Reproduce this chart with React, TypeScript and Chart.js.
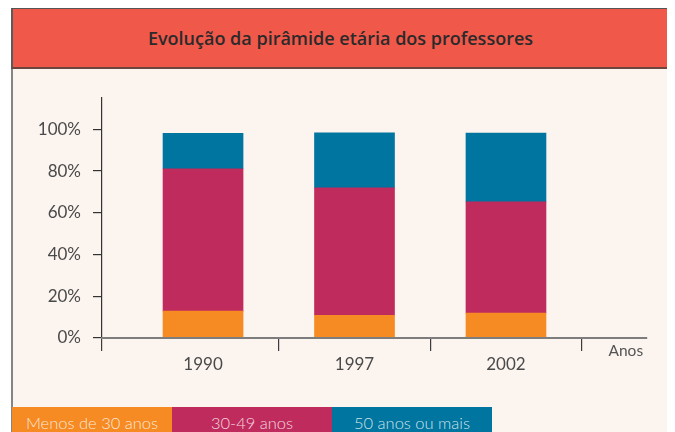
import React, { useEffect, useRef } from 'react';
import { Chart, registerables } from 'chart.js';

Chart.register(...registerables);

const chartTitle = 'Evolução da pirâmide etária dos professores';
const years = ['1990', '1997', '2002'];
const seriesNames = ['Menos de 30 anos', '30-49 anos', '50 anos ou mais'];
const under30 = [12.9, 10.9, 11.9];
const age30to49 = [68.2, 61.0, 53.3];
const over50 = [17.0, 26.4, 33.0];
const yTickValues = [0, 20, 40, 60, 80, 100];
const axisUnit = 'Anos';
const seriesColors = ['#F58B22', '#C02B5E', '#00759F'];

const X_MIN = -0.667;
const X_MAX = 2.931;
const BOUNDARIES = [0.5, 1.5, 2.5];
const Y_MAX = 115;
const FONT = 'Lato, "Open Sans", sans-serif';

export default function App() {
  const canvasRef = useRef<HTMLCanvasElement | null>(null);

  useEffect(() => {
    if (!canvasRef.current) return;
    const seriesData = [under30, age30to49, over50];
    const chart = new Chart(canvasRef.current, {
      type: 'bar',
      data: {
        datasets: seriesData.map((vals, i) => ({
          label: seriesNames[i],
          data: vals.map((v, j) => ({ x: j, y: v })),
          backgroundColor: seriesColors[i],
          borderWidth: 0,
          barThickness: 80,
          xAxisID: 'x',
          yAxisID: 'y',
        })),
      },
      options: {
        animation: false,
        responsive: true,
        maintainAspectRatio: false,
        layout: { padding: { top: 29, right: 22, bottom: 15, left: 0 } },
        plugins: { legend: { display: false }, tooltip: { enabled: false } },
        scales: {
          x: {
            type: 'linear',
            position: 'bottom',
            stacked: true,
            offset: false,
            bounds: 'data',
            min: X_MIN,
            max: X_MAX,
            weight: 0,
            afterBuildTicks: (s: any) => {
              s.ticks = [X_MIN, ...BOUNDARIES].map((v) => ({ value: v }));
            },
            afterFit: (s: any) => {
              s.height = 13;
            },
            grid: {
              offset: false,
              drawOnChartArea: false,
              drawTicks: true,
              tickLength: 13,
              color: '#3c3c3c',
              lineWidth: 1.2,
            },
            border: { display: true, color: '#7d7d7d', width: 2, z: 1 },
            ticks: { display: false },
            title: {
              display: true,
              text: axisUnit + '\u2009\u2009',
              align: 'end',
              color: '#555',
              font: { family: FONT, size: 15.5 },
              padding: { top: 0, bottom: -9 },
            },
          },
          x2: {
            type: 'linear',
            position: 'bottom',
            offset: false,
            bounds: 'data',
            min: X_MIN,
            max: X_MAX,
            weight: 1,
            afterBuildTicks: (s: any) => {
              s.ticks = years.map((_y, i) => ({ value: i }));
            },
            afterFit: (s: any) => {
              s.height = 40;
            },
            grid: { display: false, offset: false, drawTicks: false, drawOnChartArea: false },
            border: { display: false },
            ticks: {
              autoSkip: false,
              maxRotation: 0,
              padding: 3,
              color: '#4a4a4a',
              font: { family: FONT, size: 17 },
              callback: (v: any) => years[Math.round(Number(v))] ?? '',
            },
          },
          y: {
            type: 'linear',
            stacked: true,
            min: 0,
            max: Y_MAX,
            afterBuildTicks: (s: any) => {
              s.ticks = yTickValues.map((v) => ({ value: v }));
            },
            afterFit: (s: any) => {
              s.width = 90;
            },
            grid: { drawOnChartArea: false, tickLength: 9, color: '#333', lineWidth: 1.2 },
            border: { display: true, color: '#333', width: 1.2 },
            ticks: {
              padding: 12,
              color: '#4a4a4a',
              font: { family: FONT, size: 17 },
              callback: (v: any) => `${v}%`,
            },
          },
        },
      } as any,
    });
    return () => chart.destroy();
  }, []);

  return (
    <div style={{ position: 'relative', width: 659, height: 424, marginLeft: 3, overflow: 'hidden' }}>
      <div
        style={{
          position: 'absolute',
          left: 0,
          top: 0,
          width: 659,
          height: 440,
          boxSizing: 'border-box',
          borderLeft: '2px solid #858585',
          borderRight: '2px solid #6e6e6e',
          borderTop: '1px solid #555',
          background: '#FCF4EF',
        }}
      />
      <div
        style={{
          position: 'absolute',
          left: 0,
          top: 0,
          width: 659,
          height: 61,
          boxSizing: 'border-box',
          background: '#F0584A',
          borderTop: '1px solid #555',
          borderLeft: '2px solid #5a5a5a',
          borderRight: '2px solid #5a5a5a',
          borderBottom: '2px solid #6d463f',
          display: 'flex',
          alignItems: 'center',
          justifyContent: 'center',
          fontFamily: '"Open Sans", Lato, sans-serif',
          fontWeight: 600,
          fontSize: 18,
          color: '#2a2a2a',
          paddingTop: 0,
        }}
      >
        {chartTitle}
      </div>
      <div style={{ position: 'absolute', left: 1, top: 61, width: 657, height: 337 }}>
        <canvas ref={canvasRef} />
      </div>
      <div style={{ position: 'absolute', left: 1, top: 399, display: 'flex' }}>
        {seriesNames.map((name, i) => (
          <div
            key={name}
            style={{
              width: 160,
              height: 32,
              lineHeight: '32px',
              background: seriesColors[i],
              color: 'rgba(255,255,255,0.8)',
              fontFamily: FONT,
              fontWeight: 300,
              fontSize: 16.5,
              textAlign: 'center',
            }}
          >
            {name}
          </div>
        ))}
      </div>
    </div>
  );
}
